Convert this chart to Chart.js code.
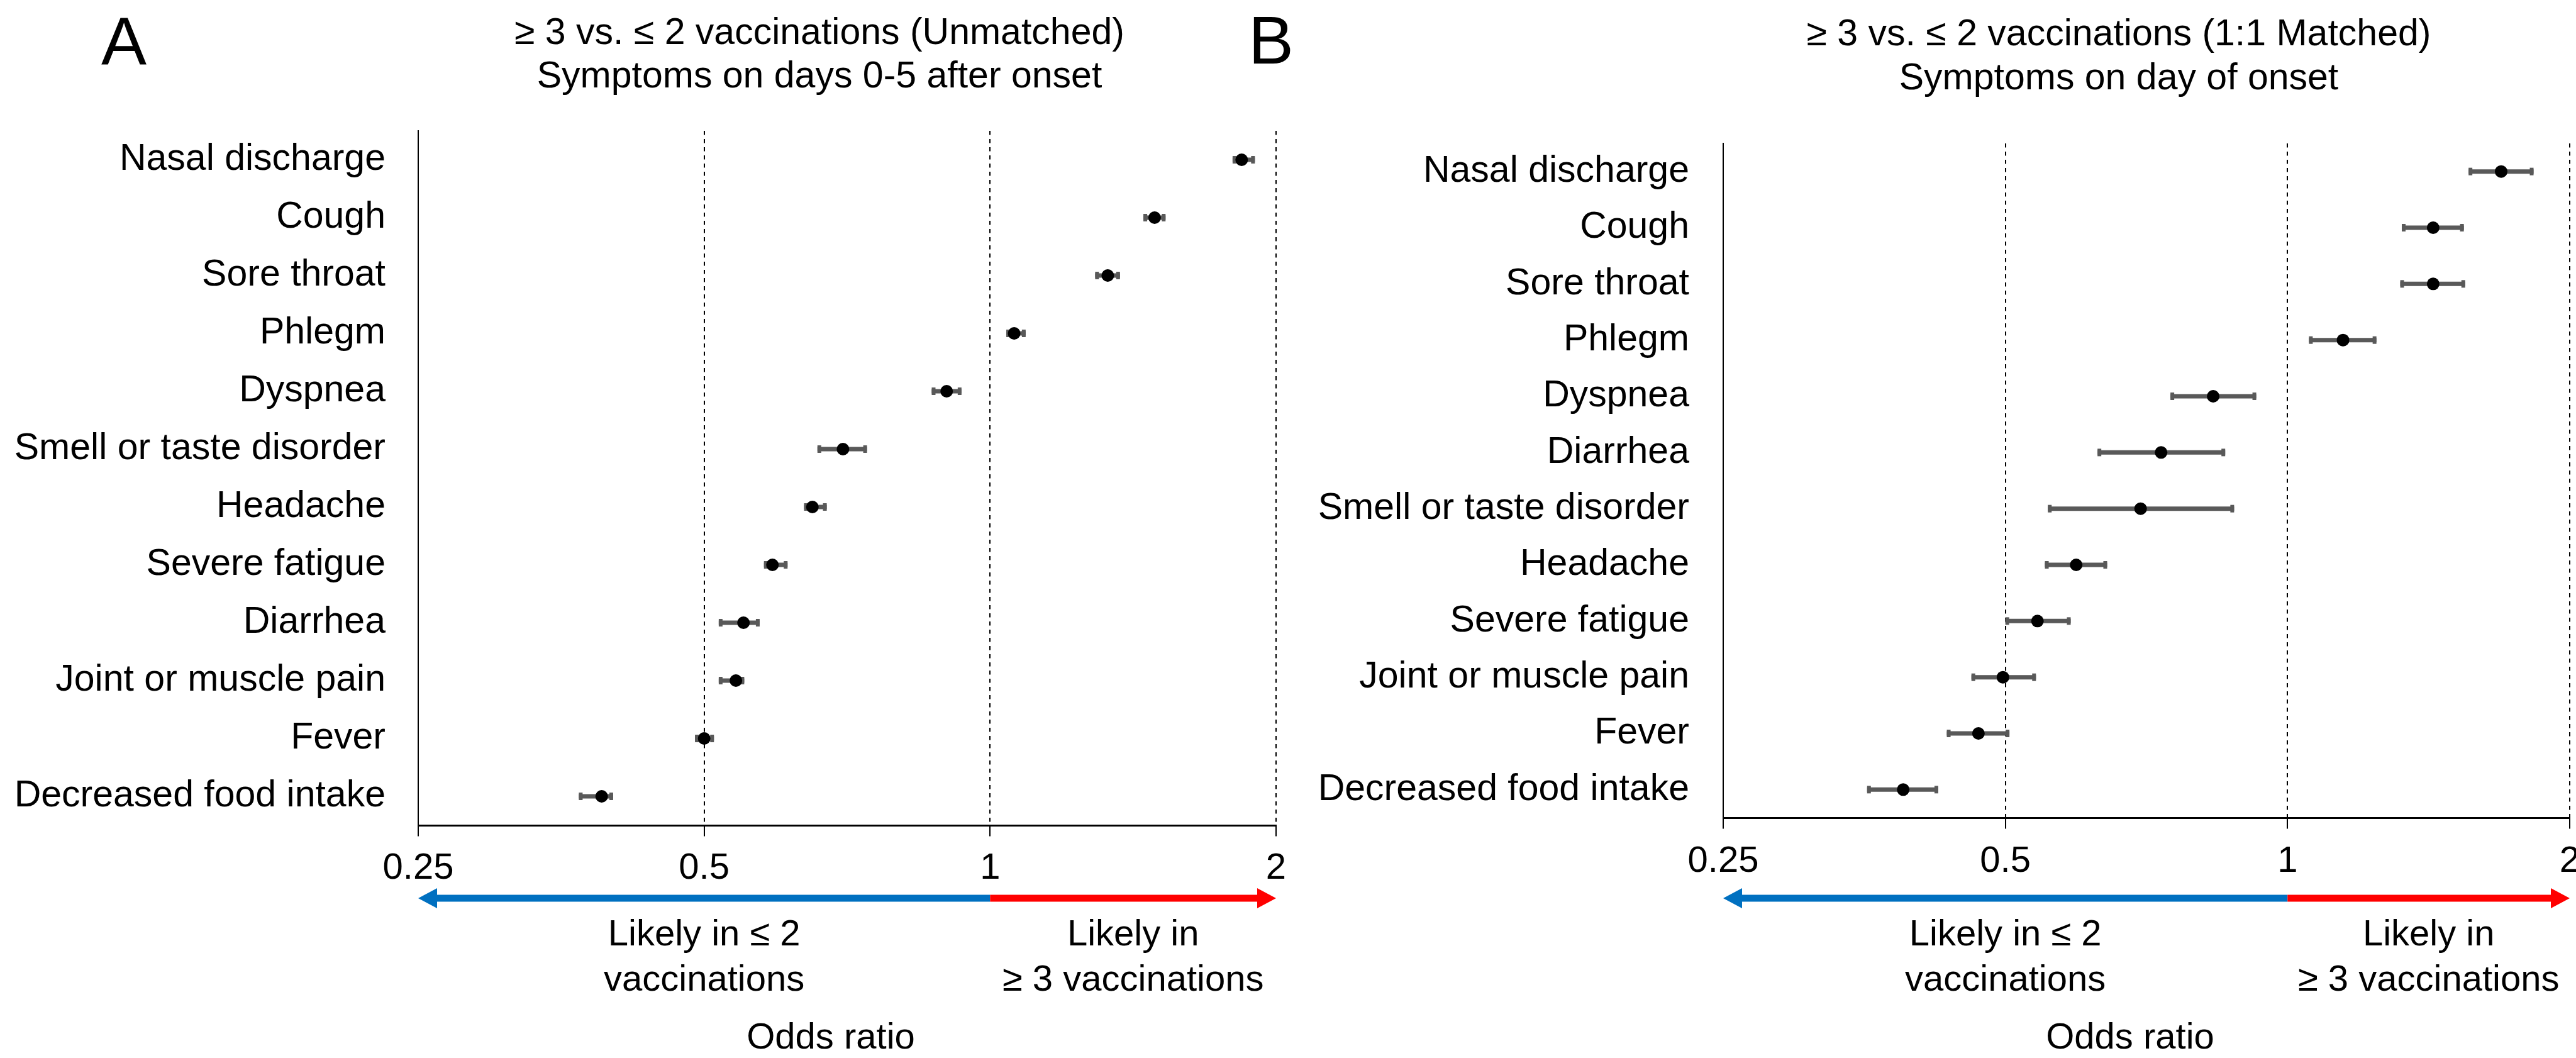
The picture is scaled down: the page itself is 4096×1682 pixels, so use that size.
<!DOCTYPE html>
<html>
<head>
<meta charset="utf-8">
<title>Symptoms odds ratio</title>
<script src="https://cdn.jsdelivr.net/npm/chart.js@4.4.1/dist/chart.umd.min.js"></script>
<style>
  html, body { margin: 0; padding: 0; background: #fff; overflow: hidden; }
  body { width: 4096px; height: 1682px; position: relative; }
  canvas { position: absolute; top: 0; }
  #panelA { left: 0; }
  #panelB { left: 1940px; }
</style>
</head>
<body>
<canvas id="panelA" width="2048" height="1682"></canvas>
<canvas id="panelB" width="2156" height="1682"></canvas>
<script>
// Eje X (odds ratio, escala log2)
const xTicks = [0.25, 0.5, 1, 2];
const xTickLabels = ["0.25", "0.5", "1", "2"];

// Panel A: no emparejado, dias 0-5
const titleA = ["\u2265 3 vs. \u2264 2 vaccinations (Unmatched)", "Symptoms on days 0-5 after onset"];
const symptomsA = [
  "Nasal discharge", "Cough", "Sore throat", "Phlegm", "Dyspnea",
  "Smell or taste disorder", "Headache", "Severe fatigue", "Diarrhea",
  "Joint or muscle pain", "Fever", "Decreased food intake",
];
const oddsA = [1.84, 1.49, 1.33, 1.06, 0.90, 0.70, 0.65, 0.59, 0.55, 0.54, 0.50, 0.39];
const lowA = [1.80, 1.45, 1.29, 1.04, 0.868, 0.658, 0.637, 0.578, 0.518, 0.518, 0.489, 0.369];
const highA = [1.90, 1.53, 1.37, 1.09, 0.933, 0.742, 0.673, 0.612, 0.572, 0.551, 0.512, 0.401];

// Panel B: emparejado 1:1, dia de inicio
const titleB = ["\u2265 3 vs. \u2264 2 vaccinations (1:1 Matched)", "Symptoms on day of onset"];
const symptomsB = [
  "Nasal discharge", "Cough", "Sore throat", "Phlegm", "Dyspnea", "Diarrhea",
  "Smell or taste disorder", "Headache", "Severe fatigue",
  "Joint or muscle pain", "Fever", "Decreased food intake",
];
const oddsB = [1.69, 1.43, 1.43, 1.146, 0.833, 0.733, 0.697, 0.595, 0.541, 0.497, 0.468, 0.389];
const lowB = [1.56, 1.324, 1.319, 1.054, 0.750, 0.627, 0.555, 0.551, 0.500, 0.460, 0.433, 0.356];
const highB = [1.83, 1.542, 1.547, 1.244, 0.926, 0.858, 0.877, 0.642, 0.587, 0.539, 0.505, 0.424];

const arrowLabels = [["Likely in \u2264 2", "vaccinations"], ["Likely in", "\u2265 3 vaccinations"]];
const axisTitle = "Odds ratio";

const FONT = '"Liberation Sans", Arial, sans-serif';
Chart.defaults.font.family = FONT;
Chart.defaults.color = "#000";

// Bigotes del intervalo de confianza (debajo de los puntos)
function whiskerPlugin(low, high) {
  return {
    id: "whiskers",
    beforeDatasetsDraw(chart) {
      const ctx = chart.ctx;
      const x = chart.scales.x;
      const y = chart.scales.y;
      ctx.save();
      ctx.strokeStyle = "#595959";
      ctx.fillStyle = "#595959";
      ctx.lineWidth = 7;
      for (let i = 0; i < low.length; i++) {
        const x1 = x.getPixelForValue(low[i]);
        const x2 = x.getPixelForValue(high[i]);
        const yy = y.getPixelForValue(i);
        ctx.beginPath();
        ctx.moveTo(x1, yy);
        ctx.lineTo(x2, yy);
        ctx.stroke();
        ctx.fillRect(x1, yy - 6, 6, 12);
        ctx.fillRect(x2 - 6, yy - 6, 6, 12);
      }
      ctx.restore();
    },
  };
}

// Titulos, letra del panel, flecha y textos inferiores
function decorPlugin(cfg) {
  return {
    id: "decor",
    afterDraw(chart) {
      const ctx = chart.ctx;
      const x = chart.scales.x;
      const area = chart.chartArea;
      const center = (area.left + area.right) / 2;
      ctx.save();
      ctx.fillStyle = "#000";
      ctx.textAlign = "center";
      ctx.textBaseline = "alphabetic";

      ctx.font = `108px ${FONT}`;
      ctx.fillText(cfg.letter, cfg.letterX, cfg.letterY);

      ctx.font = `59px ${FONT}`;
      ctx.fillText(cfg.title[0], center - 44, cfg.titleY[0]);
      ctx.fillText(cfg.title[1], center - 44, cfg.titleY[1]);

      // flecha doble: azul hasta 1, roja desde 1
      const left = x.getPixelForValue(xTicks[0]);
      const mid = x.getPixelForValue(1);
      const right = x.getPixelForValue(xTicks[xTicks.length - 1]);
      const ay = 1428, half = 5.5, head = 30, headH = 16;

      ctx.fillStyle = "#0070C0";
      ctx.beginPath();
      ctx.moveTo(left, ay);
      ctx.lineTo(left + head, ay - headH);
      ctx.lineTo(left + head, ay - half);
      ctx.lineTo(mid, ay - half);
      ctx.lineTo(mid, ay + half);
      ctx.lineTo(left + head, ay + half);
      ctx.lineTo(left + head, ay + headH);
      ctx.closePath();
      ctx.fill();

      ctx.fillStyle = "#FF0000";
      ctx.beginPath();
      ctx.moveTo(right, ay);
      ctx.lineTo(right - head, ay - headH);
      ctx.lineTo(right - head, ay - half);
      ctx.lineTo(mid, ay - half);
      ctx.lineTo(mid, ay + half);
      ctx.lineTo(right - head, ay + half);
      ctx.lineTo(right - head, ay + headH);
      ctx.closePath();
      ctx.fill();

      ctx.fillStyle = "#000";
      ctx.font = `58px ${FONT}`;
      const lx = x.getPixelForValue(0.5);
      const rx = x.getPixelForValue(Math.SQRT2);
      ctx.fillText(arrowLabels[0][0], lx, 1503);
      ctx.fillText(arrowLabels[0][1], lx, 1575);
      ctx.fillText(arrowLabels[1][0], rx, 1503);
      ctx.fillText(arrowLabels[1][1], rx, 1575);
      ctx.fillText(axisTitle, center - 26, 1667);
      ctx.restore();
    },
  };
}

function forestChart(canvasId, cfg) {
  const ctx = document.getElementById(canvasId);
  return new Chart(ctx, {
    type: "scatter",
    data: {
      datasets: [
        {
          data: cfg.labels.map((s, i) => ({ x: cfg.odds[i], y: s })),
          pointRadius: 10,
          pointHoverRadius: 10,
          pointBackgroundColor: "#000",
          pointBorderWidth: 0,
          showLine: false,
        },
      ],
    },
    options: {
      responsive: false,
      animation: false,
      devicePixelRatio: 1,
      layout: { padding: { top: cfg.top, right: cfg.right, left: 0, bottom: 0 } },
      plugins: {
        legend: { display: false },
        tooltip: { enabled: false },
        title: { display: false },
      },
      scales: {
        x: {
          type: "logarithmic",
          min: 0.25,
          max: 2,
          afterBuildTicks: (scale) => {
            scale.ticks = xTicks.map((v) => ({ value: v }));
          },
          afterFit: (scale) => {
            scale.height = cfg.xHeight;
            scale.paddingLeft = 0;
            scale.paddingRight = 0;
          },
          grid: {
            color: (c) => (c.tick && c.tick.value === xTicks[0] ? "rgba(0,0,0,0)" : "#000"),
            lineWidth: 2,
            tickColor: "#000",
            tickWidth: 2,
            tickLength: 17.5,
            tickBorderDash: [],
          },
          border: { display: true, color: "#000", width: 3, dash: [6.5, 6.5] },
          ticks: {
            padding: cfg.tickPad,
            color: "#000",
            font: { size: 58 },
            maxRotation: 0,
            autoSkip: false,
            callback: (value, index) => xTickLabels[index],
          },
        },
        y: {
          type: "category",
          labels: cfg.labels,
          offset: true,
          afterFit: (scale) => {
            scale.width = cfg.yWidth;
            scale.paddingTop = 0;
            scale.paddingBottom = 0;
          },
          grid: { display: false, drawTicks: false },
          border: { display: true, color: "#000", width: 2 },
          ticks: { padding: cfg.labelPad, color: "#000", font: { size: 59 }, autoSkip: false },
        },
      },
    },
    plugins: [
      whiskerPlugin(cfg.low, cfg.high),
      decorPlugin({
        letter: cfg.letter,
        letterX: cfg.letterX,
        letterY: cfg.letterY,
        title: cfg.title,
        titleY: cfg.titleY,
      }),
    ],
  });
}

forestChart("panelA", {
  labels: symptomsA, odds: oddsA, low: lowA, high: highA, title: titleA,
  letter: "A", letterX: 197, letterY: 103, titleY: [70, 139],
  top: 208, right: 19, xHeight: 370, yWidth: 665, tickPad: 17, labelPad: 52,
});

forestChart("panelB", {
  labels: symptomsB, odds: oddsB, low: lowB, high: highB, title: titleB,
  letter: "B", letterX: 81, letterY: 101, titleY: [72, 142],
  top: 228, right: 4, xHeight: 382, yWidth: 800, tickPad: 18, labelPad: 54,
});
</script>
</body>
</html>
